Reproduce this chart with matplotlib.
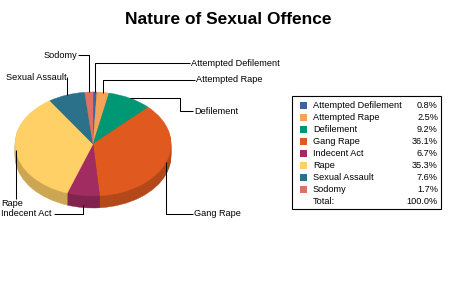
import numpy as np
import matplotlib
matplotlib.use('Agg')
import matplotlib.pyplot as plt
from matplotlib.patches import Wedge, Rectangle
from matplotlib.transforms import Affine2D

# chart data
categories = ['Attempted Defilement', 'Attempted Rape', 'Defilement', 'Gang Rape',
              'Indecent Act', 'Rape', 'Sexual Assault', 'Sodomy']
percent = [0.8, 2.5, 9.2, 36.1, 6.7, 35.3, 7.6, 1.7]
total_label = '100.0%'
colors = ['#3b64a0', '#f4a456', '#009775', '#e05a20',
          '#a02c62', '#ffd066', '#2a7189', '#dd7264']

plt.rcParams['font.family'] = ['Liberation Sans', 'DejaVu Sans']
FS = 6.6

W, H = 456, 281
fig = plt.figure(figsize=(W / 100, H / 100), dpi=100)
ax = fig.add_axes([0, 0, 1, 1])
ax.set_xlim(0, W)
ax.set_ylim(H, 0)
ax.axis('off')

# pie geometry (pixels)
cx, cy, rx, ry, depth = 93, 144, 78, 52, 12


def darker(c, f=0.8):
    r, g, b = matplotlib.colors.to_rgb(c)
    return (r * f, g * f, b * f)


vals = np.array(percent)
ends = np.cumsum(vals) / vals.sum() * 360.0
starts = ends - vals / vals.sum() * 360.0

# side of the 3d pie, then the top face
for k in list(range(depth, 0, -1)) + [0]:
    tr = Affine2D().scale(rx, -ry).translate(cx, cy + k) + ax.transData
    for s, e, c in zip(starts, ends, colors):
        fc = c if k == 0 else darker(c)
        w = Wedge((0, 0), 1, 90 - e, 90 - s, facecolor=fc, edgecolor=fc,
                  linewidth=0.3, transform=tr)
        ax.add_patch(w)

# leader lines: (label index, extra dy at pie, path points, text x, text y, align)
leaders = [
    (0, 0, [(None, 63), (190, 63)], 191, 63, 'left'),
    (1, 1, [(None, 80), (195, 80)], 196, 79, 'left'),
    (2, 0, [(180, None), (180, 111), (193, 111)], 194, 111, 'left'),
    (3, 0, [(None, 214), (193, 214)], 194, 213, 'left'),
    (4, 9, [(None, 214), (54, 214)], 1, 214, 'left'),
    (5, 0, [(None, 199)], 1, 204, 'left'),
    (6, 0, [(None, 77)], 67, 77, 'right'),
    (7, 0, [(None, 55), (78, 55)], 77, 55, 'right'),
]
for i, dy, path, tx, ty, ha in leaders:
    mid = np.radians((starts[i] + ends[i]) / 2)
    px = cx + rx * np.sin(mid)
    py = cy - ry * np.cos(mid) + dy
    xs, ys = [px], [py]
    for x, y in path:
        xs.append(xs[-1] if x is None else x)
        ys.append(ys[-1] if y is None else y)
    ax.plot(xs, ys, color='black', linewidth=0.75, solid_capstyle='butt')
    ax.text(tx, ty, categories[i], fontsize=FS, ha=ha, va='center', color='black')

# title
ax.text(228, 19, 'Nature of Sexual Offence', fontsize=12.5, fontweight='bold',
        ha='center', va='center')

# legend box
ax.add_patch(Rectangle((292, 96), 149, 113, fill=False, edgecolor='black', linewidth=0.8))
row_y = 105
for name, p, c in zip(categories, percent, colors):
    ax.add_patch(Rectangle((300, row_y - 3.5), 7, 7, facecolor=c, edgecolor='none'))
    ax.text(313, row_y, name, fontsize=FS, ha='left', va='center')
    ax.text(438, row_y, f'{p:.1f}%', fontsize=FS, ha='right', va='center')
    row_y += 12
ax.text(313, row_y, 'Total:', fontsize=FS, ha='left', va='center')
ax.text(438, row_y, total_label, fontsize=FS, ha='right', va='center')

fig.savefig('out.png', dpi=100)
